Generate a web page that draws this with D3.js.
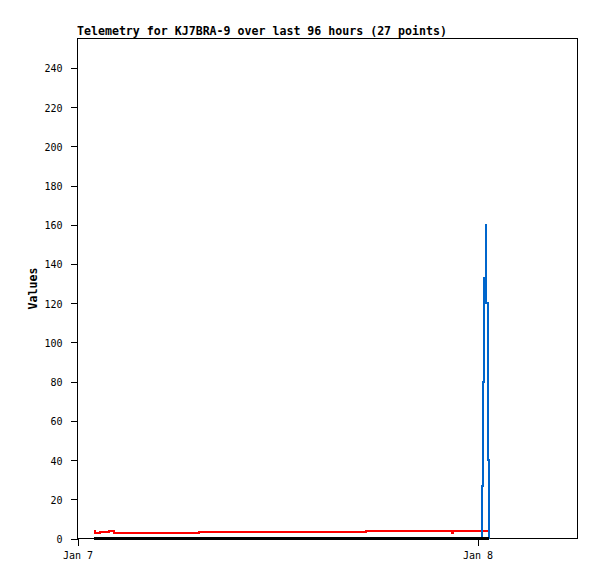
<!DOCTYPE html>
<html>
<head>
<meta charset="utf-8">
<script src="https://cdn.jsdelivr.net/npm/d3@7"></script>
<style>
  html, body { margin: 0; padding: 0; background: #fff; }
  svg { display: block; }
</style>
</head>
<body>
<script>
// ---- data ----
const titleText = "Telemetry for KJ7BRA-9 over last 96 hours (27 points)";
const yLabel = "Values";
const times = [
  "2024-01-07T00:59Z", "2024-01-07T01:02Z", "2024-01-07T01:20Z", "2024-01-07T01:53Z",
  "2024-01-07T02:11Z", "2024-01-07T03:15Z", "2024-01-07T04:20Z", "2024-01-07T05:25Z",
  "2024-01-07T06:20Z", "2024-01-07T07:17Z", "2024-01-07T09:20Z", "2024-01-07T11:45Z",
  "2024-01-07T13:30Z", "2024-01-07T15:30Z", "2024-01-07T17:17Z", "2024-01-07T19:00Z",
  "2024-01-07T20:45Z", "2024-01-07T22:27Z", "2024-01-07T22:33Z", "2024-01-07T23:30Z",
  "2024-01-08T00:17Z", "2024-01-08T00:20Z", "2024-01-08T00:24Z", "2024-01-08T00:29Z",
  "2024-01-08T00:32Z", "2024-01-08T00:36Z", "2024-01-08T00:40Z"
];
const seriesRed   = [3.6, 2.7, 3.2, 3.6, 2.7, 2.7, 2.7, 2.7, 2.7, 3.1, 3.1, 3.1, 3.1, 3.1,
                     3.6, 3.6, 3.6, 2.6, 3.6, 3.6, 3.6, 3.6, 3.6, 3.6, 3.6, 3.6, 3.6];
const seriesBlue  = [0, 0, 0, 0, 0, 0, 0, 0, 0, 0, 0, 0, 0, 0,
                     0, 0, 0, 0, 0, 0, 27, 80, 133, 160, 120, 40, 0];
const seriesBlack = [0, 0, 0, 0, 0, 0, 0, 0, 0, 0, 0, 0, 0, 0,
                     0, 0, 0, 0, 0, 0, 0, 0, 0, 0, 0, 0, 0];
const yTicks = [0, 20, 40, 60, 80, 100, 120, 140, 160, 180, 200, 220, 240];
const xDomain = ["2024-01-07T00:00Z", "2024-01-08T06:00Z"];
const yMax = 255;

// ---- drawing ----
const W = 597, H = 579;
const L = 77.5, R = 577.5, T = 38.5, B = 538.5;

const svg = d3.select("body").append("svg")
  .attr("width", W).attr("height", H);

svg.append("rect").attr("width", W).attr("height", H).attr("fill", "#fff");

const x = d3.scaleUtc().domain(xDomain.map(d => new Date(d))).range([L, R]);
const y = d3.scaleLinear().domain([0, yMax]).range([B, T]);

const monoFont = "'DejaVu Sans Mono', 'Liberation Mono', monospace";

// frame
svg.append("rect")
  .attr("x", L).attr("y", T).attr("width", R - L).attr("height", B - T)
  .attr("fill", "none").attr("stroke", "#000").attr("stroke-width", 1)
  .attr("shape-rendering", "crispEdges");

// y axis
const yAxis = d3.axisLeft(y).tickValues(yTicks).tickSize(7).tickPadding(8)
  .tickFormat(d3.format("d"));
const gy = svg.append("g").attr("transform", `translate(${L},0)`).call(yAxis);
gy.select(".domain").remove();
gy.selectAll("line").attr("shape-rendering", "crispEdges").attr("stroke", "#000");
gy.selectAll("text")
  .attr("font-family", monoFont).attr("font-size", "10px").attr("fill", "#000")
  .attr("dy", null).attr("y", 4);

// x axis
const dates = times.map(d => new Date(d));
const xAxis = d3.axisBottom(x).ticks(d3.utcDay.every(1)).tickSize(7).tickPadding(0)
  .tickFormat(d3.utcFormat("%b %-d"));
const gx = svg.append("g").attr("transform", `translate(0,${B})`).call(xAxis);
gx.select(".domain").remove();
gx.selectAll("line").attr("shape-rendering", "crispEdges").attr("stroke", "#000");
gx.selectAll("text")
  .attr("font-family", monoFont).attr("font-size", "10px").attr("fill", "#000")
  .attr("dy", null).attr("y", 20);

// series lines
const mkLine = vals => d3.line()
  .x((d, i) => x(dates[i]))
  .y(d => y(d))
  .curve(d3.curveStepAfter)(vals);

svg.append("path").attr("d", mkLine(seriesRed))
  .attr("fill", "none").attr("stroke", "#ff0000").attr("stroke-width", 2)
  .attr("shape-rendering", "crispEdges");
svg.append("path").attr("d", mkLine(seriesBlue))
  .attr("fill", "none").attr("stroke", "#0066cc").attr("stroke-width", 2)
  .attr("shape-rendering", "crispEdges");
svg.append("path").attr("d", mkLine(seriesBlack))
  .attr("fill", "none").attr("stroke", "#000").attr("stroke-width", 2.5)
  .attr("shape-rendering", "crispEdges");

// title
svg.append("text")
  .attr("x", 77).attr("y", 35)
  .attr("font-family", monoFont).attr("font-weight", "bold").attr("font-size", "11.6px")
  .attr("fill", "#000")
  .text(titleText);

// y label
svg.append("text")
  .attr("transform", "translate(36.5,288.5) rotate(-90)")
  .attr("text-anchor", "middle")
  .attr("font-family", monoFont).attr("font-weight", "bold").attr("font-size", "11.6px")
  .attr("fill", "#000")
  .text(yLabel);
</script>
</body>
</html>
